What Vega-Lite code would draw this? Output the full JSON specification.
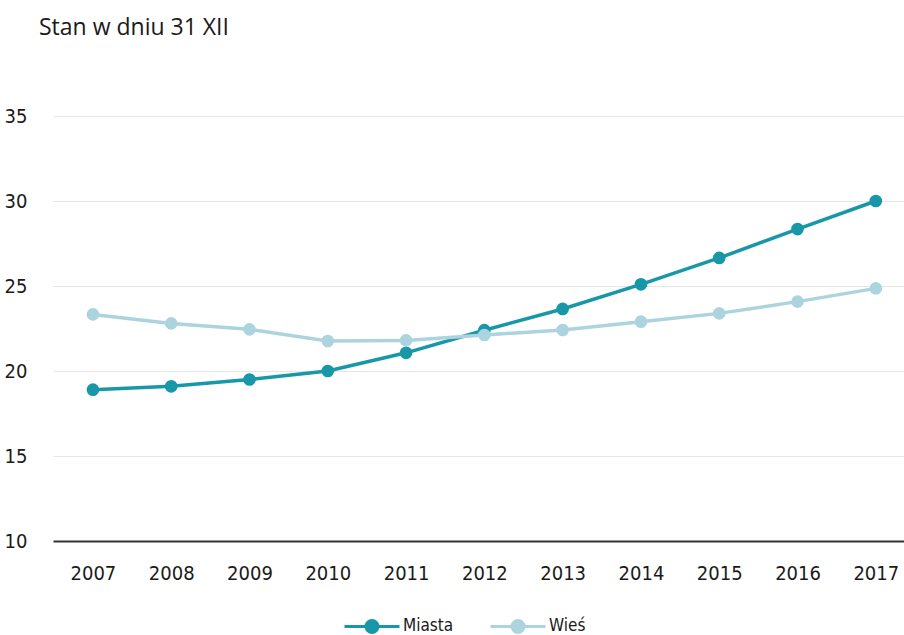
{
  "$schema": "https://vega.github.io/schema/vega-lite/v6.json",
  "autosize": "none",
  "width": 851,
  "height": 425,
  "padding": {"left": 53, "top": 116, "right": 0, "bottom": 94},
  "background": "white",
  "title": {
    "text": "Stan w dniu 31 XII",
    "anchor": "start",
    "frame": "group",
    "dx": -14,
    "offset": 66,
    "font": "Open Sans",
    "fontSize": 23,
    "fontWeight": "normal",
    "color": "#1a1a1a"
  },
  "data": {
    "values": [
      {"rok": 2007, "seria": "Miasta", "v": 18.9},
      {"rok": 2008, "seria": "Miasta", "v": 19.1},
      {"rok": 2009, "seria": "Miasta", "v": 19.5},
      {"rok": 2010, "seria": "Miasta", "v": 20.0},
      {"rok": 2011, "seria": "Miasta", "v": 21.07},
      {"rok": 2012, "seria": "Miasta", "v": 22.4},
      {"rok": 2013, "seria": "Miasta", "v": 23.65},
      {"rok": 2014, "seria": "Miasta", "v": 25.1},
      {"rok": 2015, "seria": "Miasta", "v": 26.65},
      {"rok": 2016, "seria": "Miasta", "v": 28.35},
      {"rok": 2017, "seria": "Miasta", "v": 30.0},
      {"rok": 2007, "seria": "Wieś", "v": 23.33},
      {"rok": 2008, "seria": "Wieś", "v": 22.8},
      {"rok": 2009, "seria": "Wieś", "v": 22.45},
      {"rok": 2010, "seria": "Wieś", "v": 21.76},
      {"rok": 2011, "seria": "Wieś", "v": 21.8},
      {"rok": 2012, "seria": "Wieś", "v": 22.12},
      {"rok": 2013, "seria": "Wieś", "v": 22.41},
      {"rok": 2014, "seria": "Wieś", "v": 22.9},
      {"rok": 2015, "seria": "Wieś", "v": 23.39},
      {"rok": 2016, "seria": "Wieś", "v": 24.08},
      {"rok": 2017, "seria": "Wieś", "v": 24.86}
    ]
  },
  "encoding": {
    "x": {
      "field": "rok",
      "type": "quantitative",
      "scale": {"domain": [2006.49, 2017.36], "nice": false, "zero": false},
      "axis": {
        "title": null,
        "values": [2007, 2008, 2009, 2010, 2011, 2012, 2013, 2014, 2015, 2016, 2017],
        "format": "d",
        "grid": false,
        "ticks": false,
        "domain": true,
        "domainColor": "#333333",
        "domainWidth": 2,
        "labelPadding": 22,
        "labelFont": "DejaVu Sans Condensed",
        "labelFontSize": 20,
        "labelColor": "#1a1a1a"
      }
    },
    "y": {
      "field": "v",
      "type": "quantitative",
      "scale": {"domain": [10, 35], "nice": false, "zero": false},
      "axis": {
        "title": null,
        "values": [10, 15, 20, 25, 30, 35],
        "grid": true,
        "gridColor": "#e6e6e6",
        "gridWidth": 1,
        "ticks": false,
        "domain": false,
        "labelPadding": 26,
        "labelFont": "DejaVu Sans Condensed",
        "labelFontSize": 20,
        "labelColor": "#1a1a1a"
      }
    },
    "color": {
      "field": "seria",
      "type": "nominal",
      "scale": {"domain": ["Miasta", "Wieś"], "range": ["#1797a8", "#acd4df"]},
      "legend": {
        "title": null,
        "orient": "none",
        "direction": "horizontal",
        "legendX": 290,
        "legendY": 481,
        "symbolType": "M-1,0H1M-0.22,0A0.22,0.22 0 1,0 0.22,0A0.22,0.22 0 1,0 -0.22,0Z",
        "symbolSize": 3025,
        "symbolStrokeWidth": 3,
        "labelFont": "DejaVu Sans Condensed",
        "labelFontSize": 17,
        "labelColor": "#1a1a1a",
        "labelOffset": 2,
        "columnPadding": 30
      }
    }
  },
  "layer": [
    {"mark": {"type": "line", "strokeWidth": 3.5}},
    {"mark": {"type": "point", "filled": true, "opacity": 1, "size": 160}}
  ],
  "config": {"view": {"stroke": null}}
}
